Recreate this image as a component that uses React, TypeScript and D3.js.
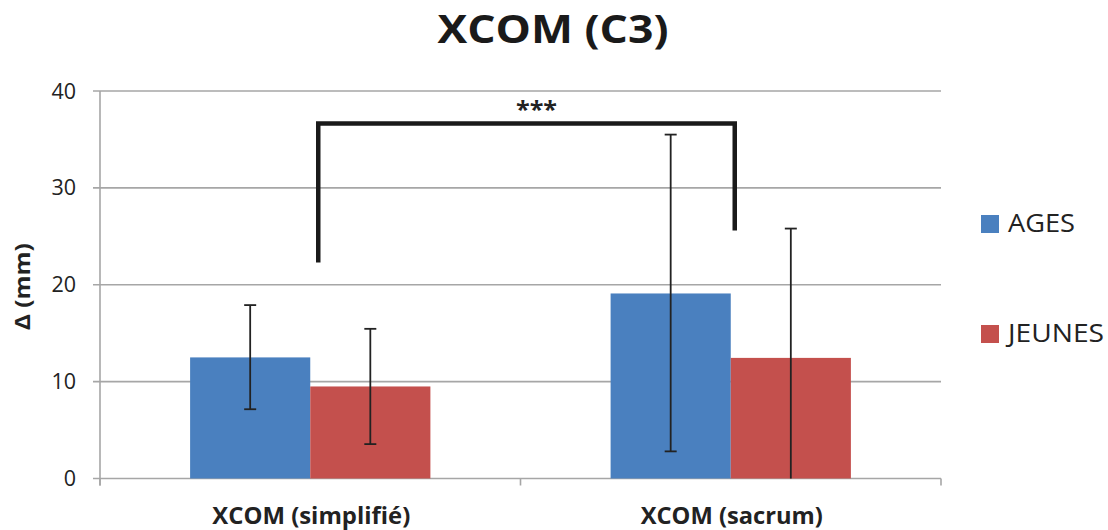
import React from "react";
import * as d3 from "d3";

const categories = ["XCOM (simplifié)", "XCOM (sacrum)"];
const seriesNames = ["AGES", "JEUNES"];
const seriesColors = ["#4a80bf", "#c4504d"];
const agesValues = [12.5, 19.1];
const agesLow = [7.15, 2.8];
const agesHigh = [17.9, 35.5];
const jeunesValues = [9.5, 12.45];
const jeunesLow = [3.55, 0];
const jeunesHigh = [15.45, 25.8];
const yTicks = [0, 10, 20, 30, 40];
const bracketLeftY = 22.3;
const bracketTopY = 36.65;
const bracketRightY = 25.6;
const bracketLabel = "***";

const W = 1108;
const H = 530;
const left = 100;
const right = 941;
const top = 91;
const bottom = 478.5;
const FONT = "'Open Sans', sans-serif";

export default function App() {
  const x = d3.scaleBand<string>().domain(categories).range([left, right]).paddingInner(0).paddingOuter(0);
  const y = d3.scaleLinear().domain([0, 40]).range([bottom, top]);
  const inner = d3.scaleBand<string>().domain(seriesNames).range([0, x.bandwidth()]).paddingInner(0).paddingOuter(0.75);
  const series = [
    { name: seriesNames[0], values: agesValues, lo: agesLow, hi: agesHigh, color: seriesColors[0] },
    { name: seriesNames[1], values: jeunesValues, lo: jeunesLow, hi: jeunesHigh, color: seriesColors[1] },
  ];
  const grid = "#a6a6a6";
  const c0 = (x(categories[0]) as number) + x.bandwidth() / 2;
  const c1 = (x(categories[1]) as number) + x.bandwidth() / 2;
  const bl = c0 + 8;
  const br = c1 + 4;
  const catLen = [198, 182];
  const legLen = [67, 96];
  return (
    <svg width={W} height={H} style={{ position: "absolute", left: 0, top: 0, background: "#fff" }}>
      <text x={553} y={42.5} textAnchor="middle" fontFamily={FONT} fontWeight="bold" fontSize={39} fill="#1a1a1a" textLength={231} lengthAdjust="spacingAndGlyphs">
        XCOM (C3)
      </text>
      {yTicks.map((t) => (
        <g key={t}>
          <line x1={left - 7} x2={right} y1={y(t)} y2={y(t)} stroke={grid} strokeWidth={1.6} />
          <text x={76} y={y(t) + 7.5} textAnchor="end" fontFamily={FONT} fontSize={21.5} fill="#222">
            {t}
          </text>
        </g>
      ))}
      <line x1={left} x2={left} y1={top} y2={bottom + 7} stroke={grid} strokeWidth={1.6} />
      {[left, left + x.bandwidth(), right].map((p, i) => (
        <line key={i} x1={p} x2={p} y1={bottom} y2={bottom + 7} stroke={grid} strokeWidth={1.6} />
      ))}
      {series.map((s) =>
        categories.map((c, i) => {
          const bx = (x(c) as number) + (inner(s.name) as number);
          return (
            <rect key={s.name + c} x={bx} y={y(s.values[i])} width={inner.bandwidth()} height={y(0) - y(s.values[i])} fill={s.color} />
          );
        })
      )}
      {series.map((s) =>
        categories.map((c, i) => {
          const cx = (x(c) as number) + (inner(s.name) as number) + inner.bandwidth() / 2;
          return (
            <g key={"e" + s.name + c} stroke="#222" strokeWidth={1.8}>
              <line x1={cx} x2={cx} y1={y(s.hi[i])} y2={y(s.lo[i])} />
              <line x1={cx - 6} x2={cx + 6} y1={y(s.hi[i])} y2={y(s.hi[i])} />
              {s.lo[i] > 0 && <line x1={cx - 6} x2={cx + 6} y1={y(s.lo[i])} y2={y(s.lo[i])} />}
            </g>
          );
        })
      )}
      <path
        d={`M${bl},${y(bracketLeftY)} L${bl},${y(bracketTopY)} L${br},${y(bracketTopY)} L${br},${y(bracketRightY)}`}
        fill="none"
        stroke="#1a1a1a"
        strokeWidth={4.5}
      />
      <text x={(bl + br) / 2 + 10} y={y(bracketTopY) - 5} textAnchor="middle" fontFamily={FONT} fontWeight="bold" fontSize={24} fill="#222" textLength={41} lengthAdjust="spacingAndGlyphs">
        {bracketLabel}
      </text>
      {categories.map((c, i) => (
        <text key={c} x={(x(c) as number) + x.bandwidth() / 2 + 1} y={524} textAnchor="middle" fontFamily={FONT} fontWeight="bold" fontSize={23} fill="#222" textLength={catLen[i]} lengthAdjust="spacingAndGlyphs">
          {c}
        </text>
      ))}
      <text transform={`translate(30,${(top + bottom) / 2 + 2}) rotate(-90)`} textAnchor="middle" fontFamily={FONT} fontWeight="bold" fontSize={22} fill="#222" textLength={87} lengthAdjust="spacingAndGlyphs">
        Δ (mm)
      </text>
      {series.map((s, i) => (
        <g key={"l" + s.name}>
          <rect x={981} y={215 + i * 110} width={18} height={18} fill={s.color} />
          <text x={1008} y={232 + i * 110} fontFamily={FONT} fontSize={26} fill="#222" textLength={legLen[i]} lengthAdjust="spacingAndGlyphs">
            {s.name}
          </text>
        </g>
      ))}
    </svg>
  );
}
